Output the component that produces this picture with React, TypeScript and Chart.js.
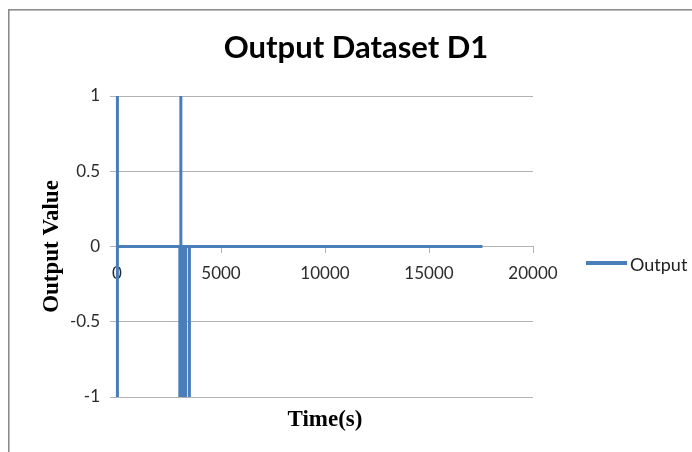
import React, { useEffect, useRef } from "react";
import { Chart, registerables } from "chart.js";

Chart.register(...registerables);

// Data (time in seconds, output value)
const timeS = [
  20, 20, 20,
  3020, 3020, 3020,
  3070, 3070, 3070,
  3090, 3090, 3090,
  3160, 3160, 3160,
  3230, 3230, 3230,
  3300, 3300, 3300,
  3480, 3480, 3480,
  17570,
];
const outputValue = [
  1, -1, 0,
  0, -1, 0,
  0, 1, 0,
  0, -1, 0,
  0, -1, 0,
  0, -1, 0,
  0, -1, 0,
  0, -1, 0,
  0,
];
const seriesName = "Output";
const chartTitle = "Output Dataset D1";
const xAxisTitle = "Time(s)";
const yAxisTitle = "Output Value";
const xTickValues = [0, 5000, 10000, 15000, 20000];
const yTickValues = [1, 0.5, 0, -0.5, -1];

const BLUE = "#4a7ebb";
const GRID = "#b3b3b3";
const TEXT = "#2b2b2b";

const decorPlugin = {
  id: "decor",
  beforeDraw(chart: any) {
    const ctx = chart.ctx;
    ctx.save();
    ctx.fillStyle = "#8c8c8c";
    ctx.fillRect(8, 9, 1.6, chart.height);
    ctx.fillRect(8, 9, chart.width, 1.6);
    ctx.restore();
  },
  afterDraw(chart: any) {
    const ctx = chart.ctx;
    const area = chart.chartArea;
    ctx.save();
    // Title
    ctx.fillStyle = "#000";
    ctx.font = "bold 31px Lato";
    ctx.textAlign = "center";
    ctx.textBaseline = "alphabetic";
    ctx.fillText(chartTitle, 356, 58);
    // X axis title
    ctx.font = "bold 23px 'Liberation Serif'";
    ctx.fillText(xAxisTitle, (area.left + area.right) / 2, 426);
    // Y axis title
    ctx.save();
    ctx.translate(58, (area.top + area.bottom) / 2);
    ctx.rotate(-Math.PI / 2);
    ctx.fillText(yAxisTitle, 0, 0);
    ctx.restore();
    // Legend
    ctx.strokeStyle = BLUE;
    ctx.lineWidth = 4;
    ctx.beginPath();
    ctx.moveTo(586, 263);
    ctx.lineTo(627, 263);
    ctx.stroke();
    ctx.fillStyle = "#222";
    ctx.font = "18px Lato";
    ctx.textAlign = "left";
    ctx.fillText(seriesName, 630, 271);
    ctx.restore();
  },
};

export default function App() {
  const ref = useRef<HTMLCanvasElement>(null);
  useEffect(() => {
    if (!ref.current) return;
    const points = timeS.map((t, i) => ({ x: t, y: outputValue[i] }));
    const chart = new Chart(ref.current, {
      type: "scatter",
      data: {
        datasets: [
          {
            label: seriesName,
            data: points,
            showLine: true,
            borderColor: BLUE,
            backgroundColor: BLUE,
            borderWidth: 3,
            pointRadius: 0,
            pointHoverRadius: 0,
            tension: 0,
            clip: false,
          } as any,
        ],
      },
      plugins: [decorPlugin],
      options: {
        animation: false,
        responsive: false,
        events: [],
        layout: { padding: { top: 96, bottom: 55, left: 0, right: 159 } },
        plugins: {
          legend: { display: false },
          title: { display: false },
          tooltip: { enabled: false },
        },
        scales: {
          x: {
            type: "linear",
            position: { y: 0 } as any,
            min: 0,
            max: 20000,
            afterBuildTicks(scale: any) {
              scale.ticks = xTickValues.map((v) => ({ value: v }));
            },
            ticks: {
              color: TEXT,
              font: { family: "Lato", size: 17 },
              padding: 11,
              maxRotation: 0,
              autoSkip: false,
              callback: (v: any) => String(v),
            },
            grid: {
              drawOnChartArea: false,
              drawTicks: true,
              tickLength: 6,
              color: GRID,
            },
            border: { display: true, color: GRID, width: 1 },
          },
          y: {
            type: "linear",
            min: -1,
            max: 1,
            afterBuildTicks(scale: any) {
              scale.ticks = yTickValues.map((v) => ({ value: v }));
            },
            afterFit(scale: any) {
              scale.width = 117;
            },
            ticks: {
              color: TEXT,
              font: { family: "Lato", size: 17 },
              padding: 10,
              autoSkip: false,
              callback: (v: any) => String(v),
            },
            grid: {
              color: GRID,
              drawTicks: true,
              tickLength: 7,
              lineWidth: 1,
            },
            border: { display: true, color: GRID, width: 1 },
          },
        },
      },
    });
    return () => chart.destroy();
  }, []);
  return (
    <div style={{ position: "fixed", left: 0, top: 0, width: 692, height: 452, background: "#fff" }}>
      <canvas ref={ref} width={692} height={452} style={{ display: "block" }} />
    </div>
  );
}
